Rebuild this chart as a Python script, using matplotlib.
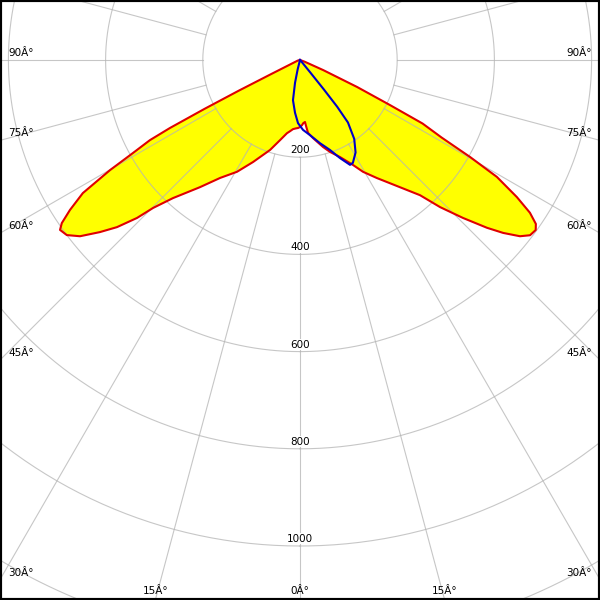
import numpy as np
import matplotlib
matplotlib.use("Agg")
import matplotlib.pyplot as plt

# intensity curves, gamma in degrees (0 = straight down, + = left side, - = right side)
red_gamma = [-180, -90, -70, -66.5, -64.7, -63.4, -62.6, -61.3, -60.3, -59.3, -57.7, -56.4,
             -55.2, -54.2, -52.7, -51.3, -49.6, -48.1, -45.9, -43.6, -41.6, -33.1, -29.4,
             -26.8, -22.4, -18.1, -14.8, -9.5, -6.3, -5.5, -4.6, -3.0, -1.8, 0, 1.7, 3.5,
             5.8, 8, 10.1, 14, 18.4, 24.7, 29.4, 34.1, 38.2, 42.6, 44.8, 45.9, 47.6, 49.3,
             51.3, 53.1, 54.7, 55.6, 56.9, 58.5, 59.9, 60.9, 61.9, 62.4, 62.9, 63.4, 64.0,
             66, 75, 90, 180]
red_cd = [0, 0, 10, 52, 130, 207, 284, 332, 403, 471, 528, 568,
          591, 598, 595, 580, 549, 517, 467, 418, 372, 290, 264,
          242, 216, 199, 185, 163, 151, 140, 128, 130, 134, 138, 140, 141,
          143, 148, 153, 170, 195, 231, 264, 293, 333, 386, 429, 467, 510, 543,
          580, 600, 605, 594, 565, 524, 452, 393, 350, 302, 220, 140, 66,
          20, 5, 0, 0]

blue_gamma = [-180, -90, -42, -39.5, -39, -38.5, -37.5, -34.5, -31, -27.2, -25.5, -22.2,
              -18.4, -13.5, -7.6, -2.5, 1.8, 5.4, 9.9, 12.3, 14, 20, 180]
blue_cd = [0, 0, 5, 34, 78, 123, 162, 197, 222, 238, 239, 218,
           195, 176, 156, 144, 130, 109, 84, 48, 20, 0, 0]

ring_values = [200, 400, 600, 800, 1000, 1200]
ring_labels = ["200", "400", "600", "800", "1000"]
spoke_angles = np.arange(0, 360, 15)
edge_angles = [90, 75, 60, 45, 30, 15, 0]


def to_xy(gamma, r):
    g = np.radians(np.asarray(gamma, dtype=float))
    r = np.asarray(r, dtype=float)
    return -r * np.sin(g), -r * np.cos(g)


px_per_cd = 0.486
half_w = 300 / px_per_cd
top = 60 / px_per_cd
bottom = -540 / px_per_cd

fig = plt.figure(figsize=(6, 6), dpi=100)
ax = fig.add_axes([0, 0, 1, 1])
ax.set_xlim(-half_w, half_w)
ax.set_ylim(bottom, top)
ax.set_aspect("equal")
ax.set_xticks([])
ax.set_yticks([])
for s in ax.spines.values():
    s.set_linewidth(3)
    s.set_color("black")

grid_kw = dict(color="#b4b4b4", lw=0.8, alpha=0.75, zorder=2)

# fill of the red curve
rx, ry = to_xy(red_gamma, red_cd)
ax.fill(rx, ry, color="#ffff00", lw=0, zorder=1)

# grid rings and spokes (spokes start at the first ring)
t = np.linspace(0, 360, 721)
for rv in ring_values:
    cx, cy = to_xy(t, np.full_like(t, rv))
    ax.plot(cx, cy, **grid_kw)
for a in spoke_angles:
    sx, sy = to_xy([a, a], [ring_values[0], 2000])
    ax.plot(sx, sy, **grid_kw)

# curves
ax.plot(rx, ry, color="#e00000", lw=1.5, zorder=3)
bx, by = to_xy(blue_gamma, blue_cd)
ax.plot(bx, by, color="#0000c8", lw=1.5, zorder=4)

# ring value labels
for lab, rv in zip(ring_labels, ring_values):
    ax.annotate(lab, (0, -rv), xytext=(0, 1.5), textcoords="offset points",
                ha="center", va="bottom", fontsize=7.5,
                bbox=dict(boxstyle="square,pad=0.05", fc="white", ec="none"), zorder=5)

# angle labels on the frame
for a in edge_angles:
    g = np.radians(a)
    lab = f"{a}Â°"
    if a == 0:
        pts = [(0, bottom, "center")]
    else:
        y_edge = -half_w * np.cos(g) / np.sin(g)
        if y_edge >= bottom:
            pts = [(-half_w, y_edge, "left"), (half_w, y_edge, "right")]
        else:
            x_b = -bottom * np.tan(g)
            pts = [(-x_b, bottom, "center"), (x_b, bottom, "center")]
    for x, y, ha in pts:
        if ha == "left":
            off = (6, 1.5)
        elif ha == "right":
            off = (-6, 1.5)
        else:
            off = (0, 3)
        ax.annotate(lab, (x, y), xytext=off, textcoords="offset points",
                    ha=ha, va="bottom", fontsize=7.5, zorder=5)

fig.savefig("out.png", dpi=100)
